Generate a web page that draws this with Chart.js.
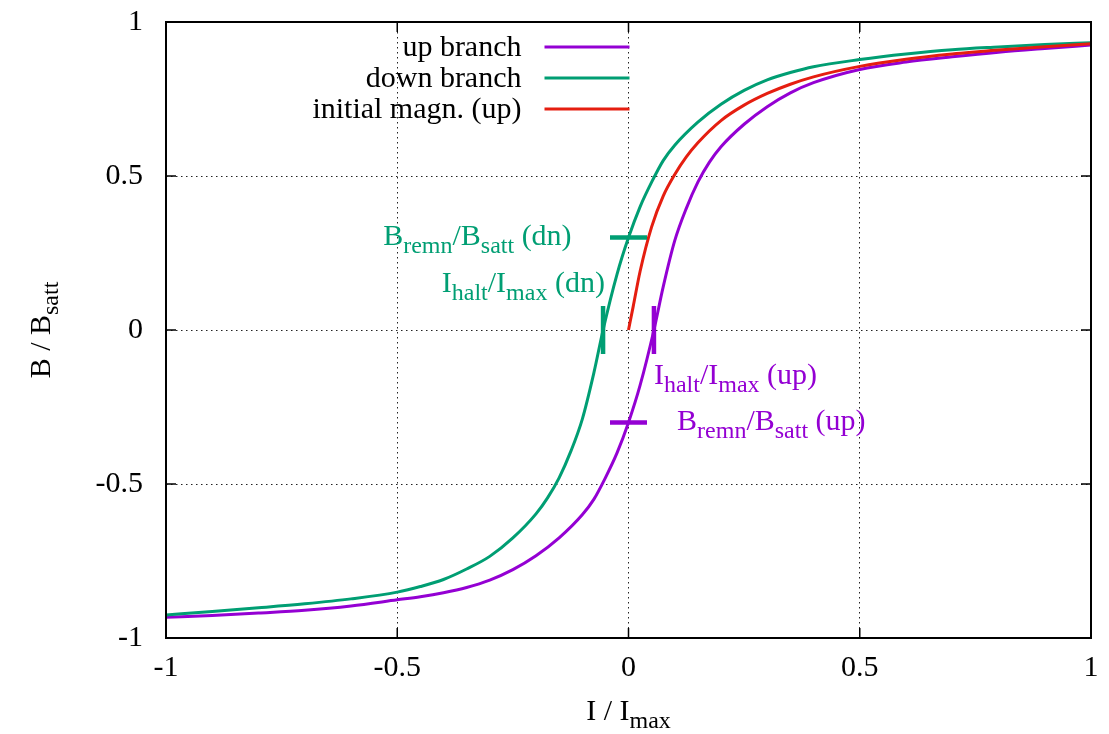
<!DOCTYPE html>
<html>
<head>
<meta charset="utf-8">
<script src="https://cdn.jsdelivr.net/npm/chart.js@4.4.0/dist/chart.umd.min.js"></script>
<style>
  html, body { margin: 0; padding: 0; background: #fff; }
</style>
</head>
<body>
<canvas id="grafico" width="1109" height="734"></canvas>
<script>
const FONTE = '"Liberation Serif", "Times New Roman", serif'
const TAM = 30
const TAM_SUB = 24

// ticks
const xTicks = [-1, -0.5, 0, 0.5, 1]
const xTickLabels = ["-1", "-0.5", "0", "0.5", "1"]
const yTicks = [-1, -0.5, 0, 0.5, 1]
const yTickLabels = ["-1", "-0.5", "0", "0.5", "1"]

// up branch
const upX = [-1, -0.9, -0.8, -0.7, -0.6, -0.5, -0.45, -0.4, -0.35, -0.3, -0.25, -0.2, -0.15, -0.1, -0.075, -0.05, -0.025, 0, 0.025, 0.055, 0.075, 0.1, 0.125, 0.15, 0.175, 0.2, 0.25, 0.3, 0.35, 0.4, 0.5, 0.6, 0.7, 0.8, 0.9, 1]
const upY = [-0.933, -0.927, -0.919, -0.91, -0.896, -0.876, -0.866, -0.853, -0.836, -0.812, -0.778, -0.733, -0.675, -0.6, -0.55, -0.48, -0.4, -0.3, -0.18, 0, 0.14, 0.29, 0.395, 0.48, 0.545, 0.595, 0.668, 0.725, 0.77, 0.803, 0.846, 0.87, 0.887, 0.902, 0.914, 0.925]

// down branch
const downX = [-1, -0.9, -0.8, -0.7, -0.6, -0.5, -0.45, -0.4, -0.35, -0.3, -0.25, -0.2, -0.175, -0.15, -0.125, -0.1, -0.075, -0.055, -0.025, 0, 0.025, 0.05, 0.075, 0.1, 0.15, 0.2, 0.25, 0.3, 0.35, 0.4, 0.5, 0.6, 0.7, 0.8, 0.9, 1]
const downY = [-0.925, -0.914, -0.902, -0.889, -0.873, -0.851, -0.833, -0.81, -0.776, -0.735, -0.675, -0.597, -0.545, -0.48, -0.395, -0.29, -0.14, 0, 0.18, 0.3, 0.4, 0.48, 0.55, 0.6, 0.675, 0.733, 0.778, 0.812, 0.836, 0.855, 0.878, 0.896, 0.91, 0.919, 0.927, 0.933]

// initial magnetization
const initX = [0, 0.01, 0.025, 0.05, 0.075, 0.1, 0.125, 0.15, 0.2, 0.25, 0.3, 0.35, 0.4, 0.5, 0.6, 0.7, 0.8, 0.9, 1]
const initY = [0, 0.075, 0.19, 0.335, 0.435, 0.505, 0.562, 0.608, 0.68, 0.73, 0.768, 0.798, 0.822, 0.856, 0.879, 0.896, 0.909, 0.92, 0.929]

const seriesLabels = ["up branch", "down branch", "initial magn. (up)"]

// remanencia e I_halt (dn, up)
const bRemn = [0.3, -0.3]
const iHalt = [-0.055, 0.055]

const cores = ["#9400d3", "#009e73", "#e51e10"]
const MEIA_LARG = 0.04   // meia largura da marca horizontal
const MEIA_ALT = 0.078   // meia altura da marca vertical

function pontos(xs, ys) {
    return xs.map((x, i) => ({ x: x, y: ys[i] }))
}

function curva(label, xs, ys, cor, ordem) {
    return {
        label: label,
        data: pontos(xs, ys),
        showLine: true,
        borderColor: cor,
        backgroundColor: cor,
        borderWidth: 3,
        pointRadius: 0,
        cubicInterpolationMode: "monotone",
        order: ordem,
        legenda: true,
    }
}

function marca(xs, ys, cor) {
    return {
        data: pontos(xs, ys),
        showLine: true,
        borderColor: cor,
        borderWidth: 4.5,
        borderCapStyle: "butt",
        pointRadius: 0,
        order: 0,
        legenda: false,
    }
}

const datasets = [
    curva(seriesLabels[0], upX, upY, cores[0], 3),
    curva(seriesLabels[1], downX, downY, cores[1], 2),
    curva(seriesLabels[2], initX, initY, cores[2], 1),
    marca([-MEIA_LARG, MEIA_LARG], [bRemn[0], bRemn[0]], cores[1]),
    marca([iHalt[0], iHalt[0]], [-MEIA_ALT, MEIA_ALT], cores[1]),
    marca([iHalt[1], iHalt[1]], [-MEIA_ALT, MEIA_ALT], cores[0]),
    marca([-MEIA_LARG, MEIA_LARG], [bRemn[1], bRemn[1]], cores[0]),
]

// rotulos com subscrito: [texto, subscrito?]
const rotulos = [
    { partes: [["B", 0], ["remn", 1], ["/B", 0], ["satt", 1], [" (dn)", 0]], x: -0.123, y: 0.276, alinhar: "right", cor: cores[1] },
    { partes: [["I", 0], ["halt", 1], ["/I", 0], ["max", 1], [" (dn)", 0]], x: -0.051, y: 0.123, alinhar: "right", cor: cores[1] },
    { partes: [["I", 0], ["halt", 1], ["/I", 0], ["max", 1], [" (up)", 0]], x: 0.055, y: -0.175, alinhar: "left", cor: cores[0] },
    { partes: [["B", 0], ["remn", 1], ["/B", 0], ["satt", 1], [" (up)", 0]], x: 0.105, y: -0.325, alinhar: "left", cor: cores[0] },
]
const tituloX = [["I / I", 0], ["max", 1]]
const tituloY = [["B / B", 0], ["satt", 1]]

function textoRico(ctx, partes, x, y, alinhar, cor) {
    let largura = 0
    partes.forEach(p => {
        ctx.font = (p[1] ? TAM_SUB : TAM) + "px " + FONTE
        largura += ctx.measureText(p[0]).width
    })
    let cx = x
    if (alinhar === "right") cx = x - largura
    if (alinhar === "center") cx = x - largura / 2
    ctx.fillStyle = cor
    ctx.textAlign = "left"
    ctx.textBaseline = "alphabetic"
    partes.forEach(p => {
        ctx.font = (p[1] ? TAM_SUB : TAM) + "px " + FONTE
        ctx.fillText(p[0], cx, p[1] ? y + 8 : y)
        cx += ctx.measureText(p[0]).width
    })
}

const extras = {
    id: "extras",
    afterDraw(chart) {
        const ctx = chart.ctx
        const a = chart.chartArea
        const sx = chart.scales.x
        const sy = chart.scales.y
        ctx.save()

        // marcas dos ticks para dentro
        ctx.strokeStyle = "#000"
        ctx.lineWidth = 1.5
        ctx.beginPath()
        xTicks.forEach(v => {
            const px = sx.getPixelForValue(v)
            ctx.moveTo(px, a.bottom); ctx.lineTo(px, a.bottom - 10)
            ctx.moveTo(px, a.top); ctx.lineTo(px, a.top + 10)
        })
        yTicks.forEach(v => {
            const py = sy.getPixelForValue(v)
            ctx.moveTo(a.left, py); ctx.lineTo(a.left + 10, py)
            ctx.moveTo(a.right, py); ctx.lineTo(a.right - 10, py)
        })
        ctx.stroke()

        // moldura
        ctx.lineWidth = 2
        ctx.strokeRect(a.left, a.top, a.right - a.left, a.bottom - a.top)

        // rotulos
        rotulos.forEach(r => {
            textoRico(ctx, r.partes, sx.getPixelForValue(r.x), sy.getPixelForValue(r.y), r.alinhar, r.cor)
        })

        // legenda no estilo gnuplot
        const fimAmostra = sx.getPixelForValue(0)
        let ly = a.top + 25
        chart.data.datasets.filter(d => d.legenda).forEach(d => {
            ctx.strokeStyle = d.borderColor
            ctx.lineWidth = 3
            ctx.beginPath()
            ctx.moveTo(fimAmostra - 84, ly)
            ctx.lineTo(fimAmostra + 1, ly)
            ctx.stroke()
            ctx.font = TAM + "px " + FONTE
            ctx.fillStyle = "#000"
            ctx.textAlign = "right"
            ctx.textBaseline = "alphabetic"
            ctx.fillText(d.label, fimAmostra - 107, ly + 9)
            ly += 31
        })

        // titulos dos eixos
        textoRico(ctx, tituloX, (a.left + a.right) / 2, 720, "center", "#000")
        ctx.translate(50, (a.top + a.bottom) / 2)
        ctx.rotate(-Math.PI / 2)
        textoRico(ctx, tituloY, 0, 0, "center", "#000")
        ctx.restore()
    }
}

const corGrade = c => (Math.abs(c.tick.value) === 1 ? "rgba(0,0,0,0)" : "#222")

const config = {
    type: "scatter",
    data: { datasets: datasets },
    options: {
        responsive: false,
        animation: false,
        layout: { padding: { top: 22, right: 18, left: 0, bottom: 0 } },
        plugins: { legend: { display: false }, tooltip: { enabled: false } },
        scales: {
            x: {
                type: "linear",
                min: -1,
                max: 1,
                afterBuildTicks: s => { s.ticks = xTicks.map(v => ({ value: v })) },
                afterFit: s => { s.height = 96; s.paddingLeft = 0; s.paddingRight = 0 },
                ticks: {
                    callback: v => xTickLabels[xTicks.indexOf(v)],
                    font: { family: FONTE, size: TAM },
                    color: "#000",
                    padding: 12,
                    maxRotation: 0,
                    autoSkip: false,
                },
                grid: { color: corGrade, lineWidth: 1, drawTicks: false },
                border: { display: false, dash: [1.5, 3.5] },
            },
            y: {
                type: "linear",
                min: -1,
                max: 1,
                afterBuildTicks: s => { s.ticks = yTicks.map(v => ({ value: v })) },
                afterFit: s => { s.width = 166; s.paddingTop = 0; s.paddingBottom = 0 },
                ticks: {
                    callback: v => yTickLabels[yTicks.indexOf(v)],
                    font: { family: FONTE, size: TAM },
                    color: "#000",
                    padding: 23,
                    autoSkip: false,
                },
                grid: { color: corGrade, lineWidth: 1, drawTicks: false },
                border: { display: false, dash: [1.5, 3.5] },
            },
        },
    },
    plugins: [extras],
}

const grafico = new Chart(document.getElementById("grafico"), config)
</script>
</body>
</html>
